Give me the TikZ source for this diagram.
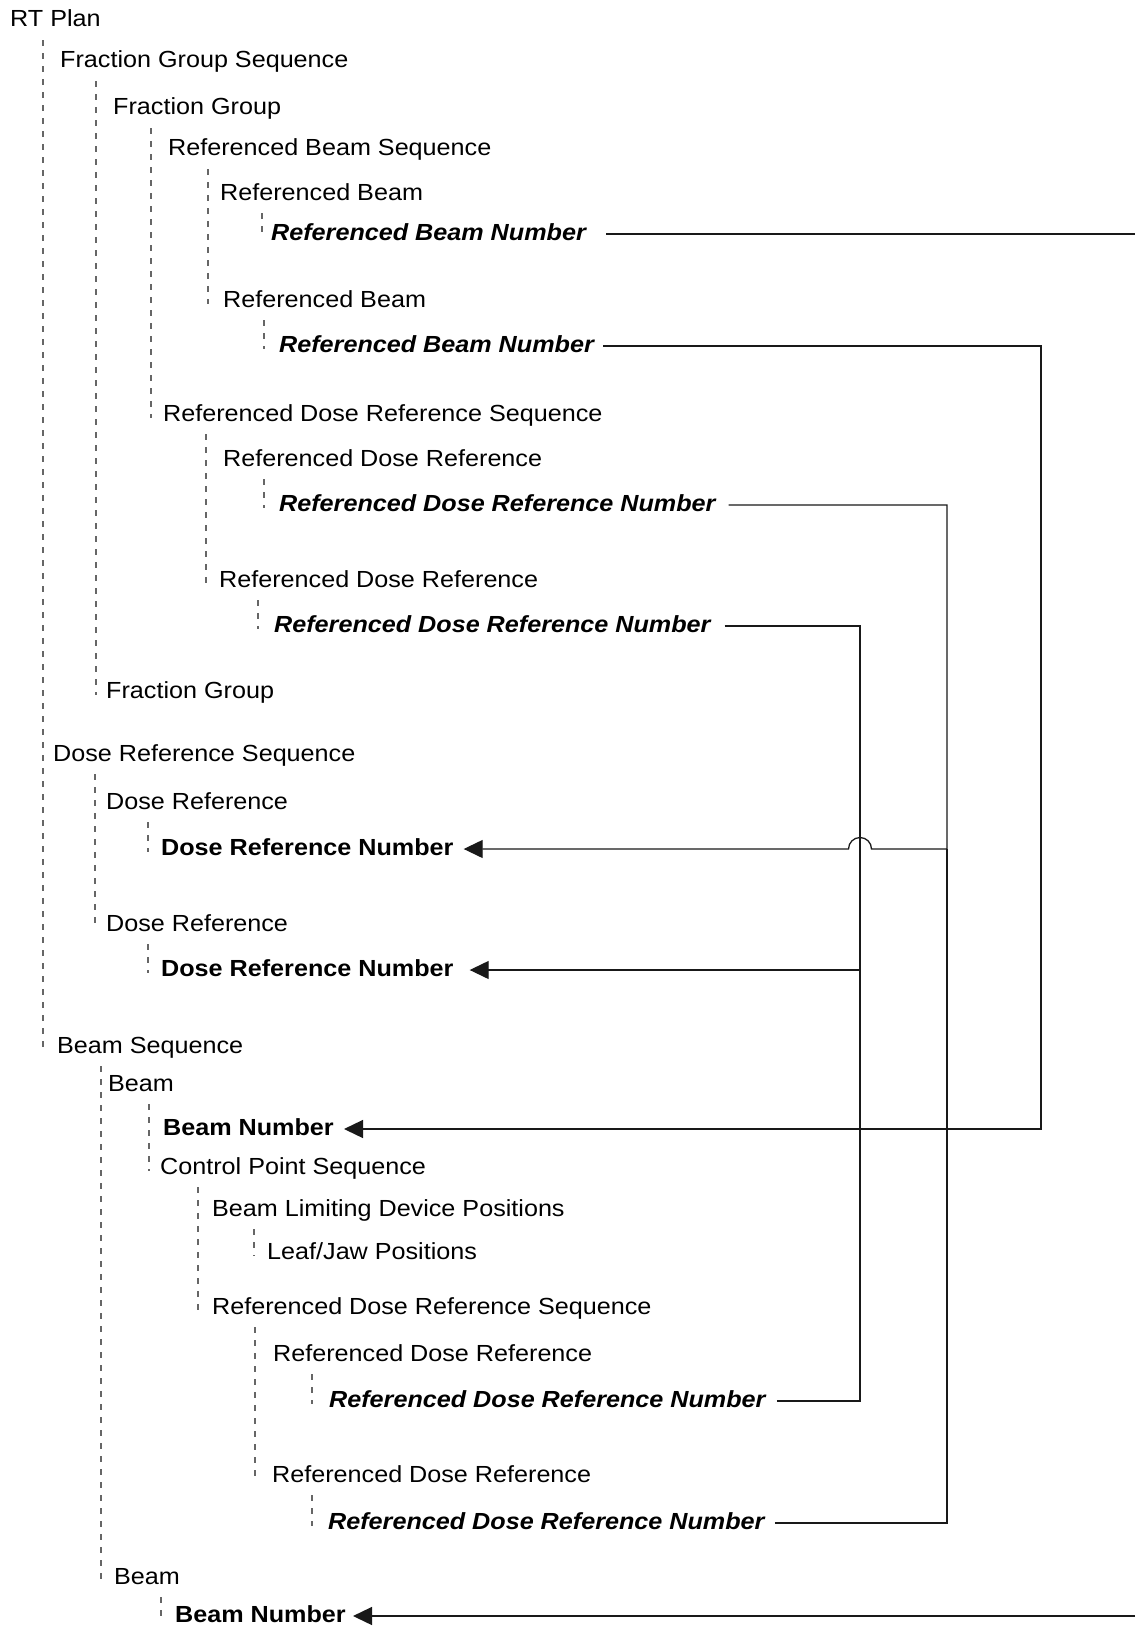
\documentclass[tikz,border=0pt]{standalone}
\usepackage{fontspec}
\setmainfont[FakeStretch=1.08]{Liberation Sans}
\usetikzlibrary{arrows.meta}
\usetikzlibrary{calc}

\begin{document}
\begin{tikzpicture}[x=1pt,y=-1pt]
  \tikzstyle{every node}=[anchor=base west,inner sep=0pt,text height=17pt,text depth=5pt,font=\fontsize{23.3}{28}\selectfont]
  \tikzstyle{num}=[font=\fontsize{23.3}{28}\selectfont\bfseries]
  \tikzstyle{refnum}=[font=\fontsize{23.3}{28}\selectfont\bfseries\itshape]
  \tikzstyle{tree}=[draw=black!60,line width=1.1pt,dash pattern=on 6pt off 7pt]
  \tikzstyle{link}=[draw=black!90,line width=1.3pt]
  \tikzstyle{arrowed}=[-{Triangle[length=19pt,width=18pt]}]
  \newcommand{\branch}[3]{\draw[tree] ($(#1.south west)+(#3,-8pt)$) -- ($(#1.south west |- #2.base)+(#3,3pt)$);}
  \useasboundingbox (0,0) rectangle (1135,1627);
  \node (rtplan)   at ( 10,  27) {RT Plan};
  \node (fgseq)    at ( 60,  68) {Fraction Group Sequence};
  \node (fgA)      at (113, 115) {Fraction Group};
  \node (rbseq)    at (168, 156) {Referenced Beam Sequence};
  \node (rbA)      at (220, 200) {Referenced Beam};
  \node[refnum] (rbnA) at (271, 240) {Referenced Beam Number};
  \node (rbB)      at (223, 307) {Referenced Beam};
  \node[refnum] (rbnB) at (279, 352) {Referenced Beam Number};
  \node (rdrseq)   at (163, 421) {Referenced Dose Reference Sequence};
  \node (rdrA)     at (223, 466) {Referenced Dose Reference};
  \node[refnum] (rdrnA) at (279, 511) {Referenced Dose Reference Number};
  \node (rdrB)     at (219, 587) {Referenced Dose Reference};
  \node[refnum] (rdrnB) at (274, 632) {Referenced Dose Reference Number};
  \node (fgB)      at (106, 698) {Fraction Group};
  \node (drseq)    at ( 53, 761) {Dose Reference Sequence};
  \node (drA)      at (106, 809) {Dose Reference};
  \node[num] (drnA) at (161, 855) {Dose Reference Number};
  \node (drB)      at (106, 931) {Dose Reference};
  \node[num] (drnB) at (161, 976) {Dose Reference Number};
  \node (bseq)     at ( 57,1053) {Beam Sequence};
  \node (beamA)    at (108,1091) {Beam};
  \node[num] (bnA) at (163,1135) {Beam Number};
  \node (cpseq)    at (160,1174) {Control Point Sequence};
  \node (bldp)     at (212,1216) {Beam Limiting Device Positions};
  \node (ljp)      at (267,1259) {Leaf/Jaw Positions};
  \node (cprdrseq) at (212,1314) {Referenced Dose Reference Sequence};
  \node (cprdrA)   at (273,1361) {Referenced Dose Reference};
  \node[refnum] (cprdrnA) at (329,1407) {Referenced Dose Reference Number};
  \node (cprdrB)   at (272,1482) {Referenced Dose Reference};
  \node[refnum] (cprdrnB) at (328,1529) {Referenced Dose Reference Number};
  \node (beamB)    at (114,1584) {Beam};
  \node[num] (bnB) at (175,1622) {Beam Number};
% tree lines
  \branch{rtplan}{bseq}{33pt}
  \branch{fgseq}{fgB}{36pt}
  \branch{fgA}{rdrseq}{38pt}
  \branch{rbseq}{rbB}{40pt}
  \branch{rbA}{rbnA}{42pt}
  \branch{rbB}{rbnB}{41pt}
  \branch{rdrseq}{rdrB}{43pt}
  \branch{rdrA}{rdrnA}{41pt}
  \branch{rdrB}{rdrnB}{39pt}
  \branch{drseq}{drB}{42pt}
  \branch{drA}{drnA}{42pt}
  \branch{drB}{drnB}{42pt}
  \branch{bseq}{beamB}{44pt}
  \branch{beamA}{cpseq}{41pt}
  \branch{cpseq}{cprdrseq}{38pt}
  \branch{bldp}{ljp}{42pt}
  \branch{cprdrseq}{cprdrB}{43pt}
  \branch{cprdrA}{cprdrnA}{39pt}
  \branch{cprdrB}{cprdrnB}{40pt}
  \branch{beamB}{bnB}{47pt}
% reference links
  \coordinate (busA) at (1041,0);
  \coordinate (busB) at (947,0);
  \coordinate (busC) at (860,0);
  \coordinate (edge) at (1135,0);
  \draw[link] ([xshift=20pt]rbnA.east) -- (rbnA.east -| edge);
  \draw[link,arrowed] (bnB.east -| edge) -- ([xshift=7pt]bnB.east);
  \draw[link,arrowed] ([xshift=9pt]rbnB.east) -| (busA |- bnA.east) -- ([xshift=10pt]bnA.east);
  \draw[link,arrowed] ([xshift=13pt]rdrnA.east) -| (busB |- drnA.east) -- ($(busC |- drnA.east)+(11.5pt,0)$)
    arc[start angle=0,end angle=-180,radius=11.5] -- ([xshift=10pt]drnA.east);
  \draw[link,arrowed] ([xshift=14pt]rdrnB.east) -| (busC |- drnB.east) -- ([xshift=16pt]drnB.east);
  \draw[link] ([xshift=11pt]cprdrnA.east) -| (busC |- drnB.east);
  \draw[link] ([xshift=10pt]cprdrnB.east) -| (busB |- drnA.east);
\end{tikzpicture}
\end{document}
